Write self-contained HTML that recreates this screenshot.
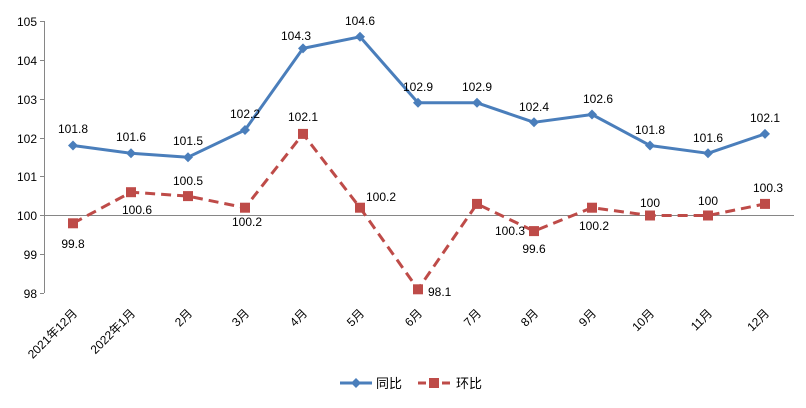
<!DOCTYPE html>
<html><head><meta charset="utf-8"><style>
body{margin:0;background:#fff;}
svg text{font-family:"Liberation Sans","Noto Sans CJK SC",sans-serif;font-size:12px;fill:#000;}
</style></head><body>
<svg width="806" height="403" xmlns="http://www.w3.org/2000/svg">
<rect width="806" height="403" fill="#fff"/>
<g stroke="#868686" stroke-width="1">
<line x1="44.5" y1="21" x2="44.5" y2="293"/>
<line x1="44" y1="215.5" x2="794" y2="215.5"/>
<line x1="40" y1="21.5" x2="44" y2="21.5"/><line x1="40" y1="60.5" x2="44" y2="60.5"/>
<line x1="40" y1="99.5" x2="44" y2="99.5"/><line x1="40" y1="138.5" x2="44" y2="138.5"/>
<line x1="40" y1="176.5" x2="44" y2="176.5"/><line x1="40" y1="215.5" x2="44" y2="215.5"/>
<line x1="40" y1="254.5" x2="44" y2="254.5"/><line x1="40" y1="293.5" x2="44" y2="293.5"/>
</g>
<g text-anchor="end">
<text x="37" y="26">105</text><text x="37" y="65">104</text><text x="37" y="104">103</text>
<text x="37" y="143">102</text><text x="37" y="181">101</text><text x="37" y="220">100</text>
<text x="37" y="259">99</text><text x="37" y="298">98</text>
</g>
<polyline fill="none" stroke="#4A7EBB" stroke-width="3" stroke-linejoin="round" points="73,145.5 131,153.3 188,157.2 245,130 303,48.4 360,36.8 418,102.8 477,102.8 534,122.3 592,114.5 650,145.5 708,153.3 765,133.9"/>
<g fill="#4A7EBB">
<polygon points="73,140.5 78,145.5 73,150.5 68,145.5"/><polygon points="131,148.3 136,153.3 131,158.3 126,153.3"/>
<polygon points="188,152.2 193,157.2 188,162.2 183,157.2"/><polygon points="245,125 250,130 245,135 240,130"/>
<polygon points="303,43.4 308,48.4 303,53.4 298,48.4"/><polygon points="360,31.8 365,36.8 360,41.8 355,36.8"/>
<polygon points="418,97.8 423,102.8 418,107.8 413,102.8"/><polygon points="477,97.8 482,102.8 477,107.8 472,102.8"/>
<polygon points="534,117.3 539,122.3 534,127.3 529,122.3"/><polygon points="592,109.5 597,114.5 592,119.5 587,114.5"/>
<polygon points="650,140.5 655,145.5 650,150.5 645,145.5"/><polygon points="708,148.3 713,153.3 708,158.3 703,153.3"/>
<polygon points="765,128.9 770,133.9 765,138.9 760,133.9"/>
</g>
<polyline fill="none" stroke="#BE4B48" stroke-width="3" stroke-dasharray="10,6" stroke-linejoin="round" points="73,223.3 131,192.2 188,196.1 245,207.7 303,133.9 360,207.7 418,289.3 477,203.9 534,231.1 592,207.7 650,215.5 708,215.5 765,203.9"/>
<g fill="#BE4B48">
<rect x="68" y="218.3" width="10" height="10"/><rect x="126" y="187.2" width="10" height="10"/>
<rect x="183" y="191.1" width="10" height="10"/><rect x="240" y="202.7" width="10" height="10"/>
<rect x="298" y="128.9" width="10" height="10"/><rect x="355" y="202.7" width="10" height="10"/>
<rect x="413" y="284.3" width="10" height="10"/><rect x="472" y="198.9" width="10" height="10"/>
<rect x="529" y="226.1" width="10" height="10"/><rect x="587" y="202.7" width="10" height="10"/>
<rect x="645" y="210.5" width="10" height="10"/><rect x="703" y="210.5" width="10" height="10"/>
<rect x="760" y="198.9" width="10" height="10"/>
</g>
<g text-anchor="middle">
<text x="73" y="133">101.8</text><text x="131" y="141">101.6</text><text x="188" y="145">101.5</text>
<text x="245" y="118">102.2</text><text x="296" y="40">104.3</text><text x="360" y="25">104.6</text>
<text x="418" y="91">102.9</text><text x="477" y="91">102.9</text><text x="534" y="111">102.4</text>
<text x="598" y="103">102.6</text><text x="650" y="134">101.8</text><text x="708" y="142">101.6</text>
<text x="765" y="122">102.1</text>
<text x="73" y="248">99.8</text><text x="137" y="214">100.6</text><text x="188" y="185">100.5</text>
<text x="247" y="226">100.2</text><text x="303" y="121">102.1</text><text x="534" y="253">99.6</text>
<text x="594" y="230">100.2</text><text x="650" y="207">100</text><text x="708" y="205">100</text>
<text x="768" y="192">100.3</text>
</g>
<text x="366" y="201">100.2</text><text x="428" y="296">98.1</text><text x="495" y="235">100.3</text>
<g text-anchor="end">
<text transform="translate(78,314) rotate(-45)">2021年12月</text>
<text transform="translate(136,314) rotate(-45)">2022年1月</text>
<text transform="translate(193,314) rotate(-45)">2月</text>
<text transform="translate(250,314) rotate(-45)">3月</text>
<text transform="translate(308,314) rotate(-45)">4月</text>
<text transform="translate(365,314) rotate(-45)">5月</text>
<text transform="translate(423,314) rotate(-45)">6月</text>
<text transform="translate(482,314) rotate(-45)">7月</text>
<text transform="translate(539,314) rotate(-45)">8月</text>
<text transform="translate(597,314) rotate(-45)">9月</text>
<text transform="translate(655,314) rotate(-45)">10月</text>
<text transform="translate(713,314) rotate(-45)">11月</text>
<text transform="translate(770,314) rotate(-45)">12月</text>
</g>
<line x1="340" y1="383" x2="372" y2="383" stroke="#4A7EBB" stroke-width="3"/>
<polygon points="356,378 361,383 356,388 351,383" fill="#4A7EBB"/>
<text x="376" y="388" style="font-size:13px">同比</text>
<line x1="418" y1="383" x2="450" y2="383" stroke="#BE4B48" stroke-width="3" stroke-dasharray="8,4"/>
<rect x="429" y="378" width="10" height="10" fill="#BE4B48"/>
<text x="456" y="388" style="font-size:13px">环比</text>
</svg>
</body></html>
